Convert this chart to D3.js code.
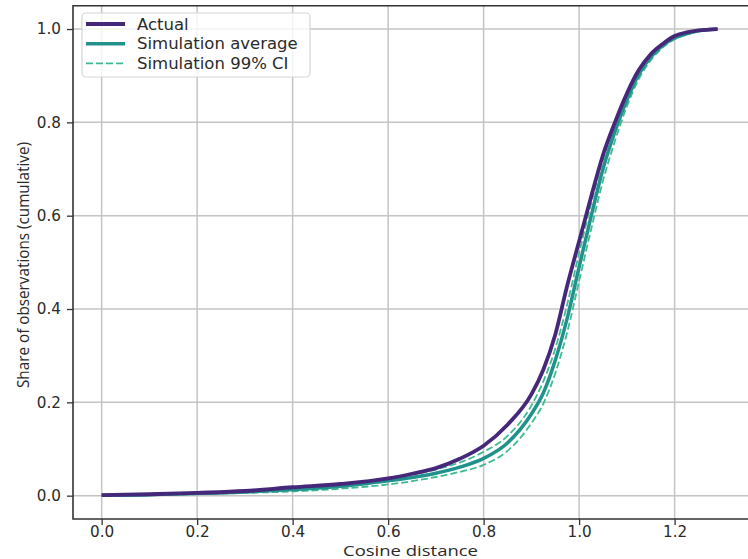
<!DOCTYPE html>
<html>
<head>
<meta charset="utf-8">
<script src="https://cdn.jsdelivr.net/npm/d3@7"></script>
<style>
  body { margin: 0; background: #fff; }
  svg { display: block; }
</style>
</head>
<body>
<div id="chart"></div>
<script>
// cosine distance grid shared by all series
const distances = [0, 0.1, 0.2, 0.3, 0.4, 0.5, 0.6, 0.65, 0.7, 0.75, 0.8, 0.85, 0.9, 0.925, 0.95, 0.975, 1.0, 1.025, 1.05, 1.075, 1.1, 1.125, 1.15, 1.175, 1.2, 1.225, 1.25, 1.29];
const actual = [0.001, 0.003, 0.006, 0.010, 0.018, 0.025, 0.037, 0.047, 0.059, 0.079, 0.107, 0.152, 0.217, 0.270, 0.345, 0.450, 0.545, 0.640, 0.730, 0.800, 0.862, 0.912, 0.946, 0.968, 0.985, 0.993, 0.997, 1.0];
const simAverage = [0.001, 0.002, 0.005, 0.008, 0.013, 0.020, 0.032, 0.039, 0.048, 0.061, 0.080, 0.113, 0.175, 0.220, 0.290, 0.380, 0.490, 0.598, 0.700, 0.780, 0.848, 0.903, 0.940, 0.965, 0.981, 0.990, 0.996, 1.0];
const ciHigh = [0.001, 0.003, 0.006, 0.009, 0.016, 0.024, 0.037, 0.045, 0.056, 0.071, 0.094, 0.128, 0.193, 0.245, 0.315, 0.410, 0.520, 0.625, 0.720, 0.795, 0.860, 0.910, 0.945, 0.968, 0.983, 0.992, 0.997, 1.0];
const ciLow = [0.0, 0.001, 0.003, 0.006, 0.009, 0.015, 0.024, 0.031, 0.040, 0.051, 0.066, 0.096, 0.155, 0.197, 0.262, 0.350, 0.460, 0.570, 0.675, 0.760, 0.834, 0.893, 0.933, 0.960, 0.978, 0.988, 0.995, 1.0];

const xTicks = [0, 0.2, 0.4, 0.6, 0.8, 1.0, 1.2];
const yTicks = [0, 0.2, 0.4, 0.6, 0.8, 1.0];

const colActual = '#46287a';
const colAvg = '#21918c';
const colCI = '#3dbb91';

const width = 748;
const height = 559;

const svg = d3.select('#chart')
  .append('svg')
    .attr('width', width)
    .attr('height', height);

// plot box (right spine falls just outside the picture)
const pLeft = 73, pRight = 751, pTop = 5.7, pBottom = 519;

const x = d3.scaleLinear()
  .domain([-0.06, 1.36])
  .range([pLeft, pRight]);
const y = d3.scaleLinear()
  .domain([-0.05, 1.05])
  .range([pBottom, pTop]);

// grid
svg.append('g')
  .selectAll('line')
  .data(xTicks)
  .enter()
  .append('line')
    .attr('x1', d => x(d)).attr('x2', d => x(d))
    .attr('y1', pTop).attr('y2', pBottom)
    .attr('stroke', '#c4c4c4')
    .attr('stroke-width', 1.5);
svg.append('g')
  .selectAll('line')
  .data(yTicks)
  .enter()
  .append('line')
    .attr('x1', pLeft).attr('x2', pRight)
    .attr('y1', d => y(d)).attr('y2', d => y(d))
    .attr('stroke', '#c4c4c4')
    .attr('stroke-width', 1.5);

// axes
const xAxis = svg.append('g')
  .attr('transform', `translate(0, ${pBottom})`)
  .call(d3.axisBottom(x).tickValues(xTicks).tickFormat(d3.format('.1f')).tickSize(6).tickPadding(1))
  .call(g => g.select('.domain').remove());
const yAxis = svg.append('g')
  .attr('transform', `translate(${pLeft}, 0)`)
  .call(d3.axisLeft(y).tickValues(yTicks).tickFormat(d3.format('.1f')).tickSize(6).tickPadding(6))
  .call(g => g.select('.domain').remove());

[xAxis, yAxis].forEach(a => {
  a.selectAll('line').attr('stroke', '#333').attr('stroke-width', 1.3);
  a.selectAll('text')
    .style('font-family', 'DejaVu Sans')
    .style('font-size', '15.2px')
    .attr('fill', '#2a2a2a');
});

// spines
svg.append('path')
  .attr('d', `M${pRight},${pTop}H${pLeft}V${pBottom}H${pRight}`)
  .attr('fill', 'none')
  .attr('stroke', '#333')
  .attr('stroke-width', 1.6);

// series
const line = ys => d3.line()
  .x((d, i) => x(distances[i]))
  .y(d => y(d))
  .curve(d3.curveMonotoneX)(ys);

svg.append('path')
  .attr('d', line(ciLow))
  .attr('fill', 'none')
  .attr('stroke', colCI)
  .attr('stroke-width', 1.8)
  .attr('stroke-dasharray', '7,3');
svg.append('path')
  .attr('d', line(ciHigh))
  .attr('fill', 'none')
  .attr('stroke', colCI)
  .attr('stroke-width', 1.8)
  .attr('stroke-dasharray', '7,3');
svg.append('path')
  .attr('d', line(simAverage))
  .attr('fill', 'none')
  .attr('stroke', colAvg)
  .attr('stroke-width', 3.5);
svg.append('path')
  .attr('d', line(actual))
  .attr('fill', 'none')
  .attr('stroke', colActual)
  .attr('stroke-width', 3.8);

// legend
const legendItems = [
  { label: 'Actual', color: colActual, w: 3.8, dash: null },
  { label: 'Simulation average', color: colAvg, w: 3.5, dash: null },
  { label: 'Simulation 99% CI', color: colCI, w: 1.8, dash: '7,3' }
];
const legend = svg.append('g');
legend.append('rect')
  .attr('x', 82).attr('y', 13)
  .attr('width', 228).attr('height', 64)
  .attr('rx', 4)
  .attr('fill', 'rgba(255,255,255,0.8)')
  .attr('stroke', '#d6d6d6')
  .attr('stroke-width', 1.2);
legendItems.forEach((d, i) => {
  const ly = 24 + i * 19.7;
  legend.append('line')
    .attr('x1', 86).attr('x2', 125)
    .attr('y1', ly).attr('y2', ly)
    .attr('stroke', d.color)
    .attr('stroke-width', d.w)
    .attr('stroke-dasharray', d.dash);
  legend.append('text')
    .attr('x', 137).attr('y', ly + 5.5)
    .style('font-family', 'DejaVu Sans')
    .style('font-size', '16.5px')
    .attr('fill', '#2a2a2a')
    .text(d.label);
});

// axis titles
svg.append('text')
  .attr('x', 410.5).attr('y', 556)
  .attr('text-anchor', 'middle')
  .attr('textLength', 135)
  .attr('lengthAdjust', 'spacingAndGlyphs')
  .style('font-family', 'Open Sans')
  .style('font-size', '15px')
  .attr('fill', '#2a2a2a')
  .text('Cosine distance');
svg.append('text')
  .attr('transform', `translate(29, 265) rotate(-90)`)
  .attr('text-anchor', 'middle')
  .attr('textLength', 246)
  .attr('lengthAdjust', 'spacingAndGlyphs')
  .style('font-family', 'Open Sans')
  .style('font-size', '17px')
  .attr('fill', '#2a2a2a')
  .text('Share of observations (cumulative)');
</script>
</body>
</html>
